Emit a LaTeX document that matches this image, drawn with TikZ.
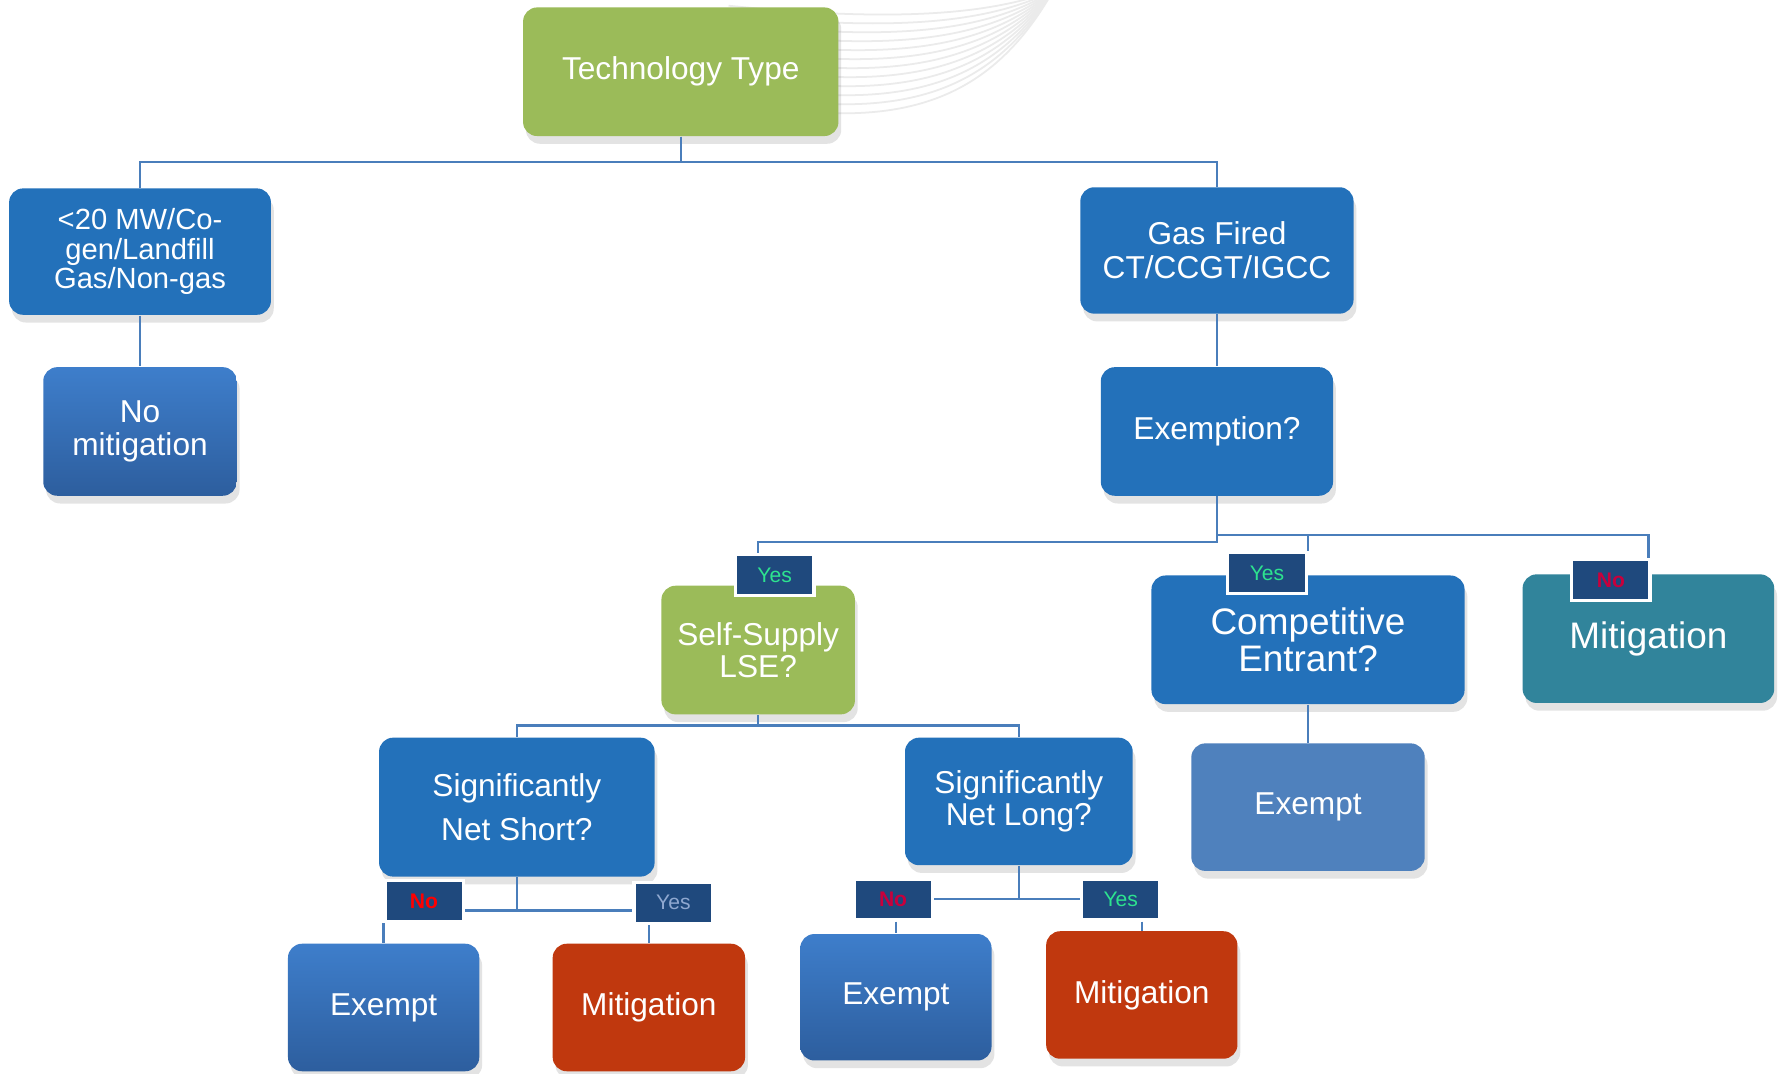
\documentclass[tikz,border=0pt]{standalone}
\usepackage{fontspec}
\setmainfont{Liberation Sans}
\usepackage{xcolor}
\usetikzlibrary{shadows,calc}

\definecolor{techgreen}{HTML}{9BBB59}
\definecolor{boxblue}{HTML}{2371BA}
\definecolor{gradtop}{HTML}{3E7ECB}
\definecolor{gradbot}{HTML}{2D5E9E}
\definecolor{paleblue}{HTML}{4F81BD}
\definecolor{tealbox}{HTML}{31849B}
\definecolor{rustred}{HTML}{C0380E}
\definecolor{tagnavy}{HTML}{1F497D}
\definecolor{linkblue}{HTML}{4A7EBB}
\definecolor{yesgreen}{HTML}{2DE38F}
\definecolor{nocrimson}{HTML}{C8003C}
\definecolor{yesgrey}{HTML}{8FA8D0}

\begin{document}
\begin{tikzpicture}[
    x=0.011384cm, y=-0.011384cm,
    box/.style={rectangle, rounded corners=4pt, text=white, align=center, inner sep=2pt,
        drop shadow={shadow xshift=0.8pt, shadow yshift=-2.2pt, opacity=0.22},
        font=\fontsize{9}{10}\selectfont},
    grad/.style={box, top color=gradtop, bottom color=gradbot},
    tag/.style={rectangle, fill=tagnavy, draw=white, line width=1pt, minimum width=0.786cm,
        minimum height=0.41cm, inner sep=0pt, font=\fontsize{6}{7}\selectfont},
    link/.style={draw=linkblue, line width=0.7pt},
]
    \useasboundingbox[fill=white] (0,0) rectangle (1568,943);
    % faint background sweep
    \foreach \i in {0,...,11}
        \draw[black!8, line width=0.5pt] (640,{5+7.5*\i}) .. controls (790,{20+9*\i}) and (870,{12+7*\i}) .. (925,-8);

    \node[box, fill=techgreen, minimum width=3.153cm, minimum height=1.286cm] (tech) at (598,63) {Technology Type};
    \node[box, fill=boxblue, minimum width=2.618cm, minimum height=1.264cm, font=\fontsize{8.3}{8.4}\selectfont] (small) at (123,221) {<20 MW/Co-\\gen/Landfill\\Gas/Non-gas};
    \node[box, fill=boxblue, minimum width=2.732cm, minimum height=1.264cm, font=\fontsize{9}{9.7}\selectfont] (gas) at (1069,220) {Gas Fired\\CT/CCGT/IGCC};
    \node[grad, minimum width=1.935cm, minimum height=1.286cm, font=\fontsize{9}{9.4}\selectfont] (nomit) at (123,379) {No\\mitigation};
    \node[box, fill=boxblue, minimum width=2.322cm, minimum height=1.286cm] (exemp) at (1069,379) {Exemption?};
    \node[box, fill=techgreen, minimum width=1.935cm, minimum height=1.286cm, font=\fontsize{9}{9.1}\selectfont] (supply) at (666,571) {Self-Supply\\LSE?};
    \node[box, fill=boxblue, minimum width=3.131cm, minimum height=1.286cm, font=\fontsize{10.5}{10.7}\selectfont] (comp) at (1149,562) {Competitive\\Entrant?};
    \node[box, fill=tealbox, minimum width=2.516cm, minimum height=1.286cm, font=\fontsize{10.5}{11}\selectfont] (mitteal) at (1448,561) {Mitigation};
    \node[box, fill=boxblue, minimum width=2.755cm, minimum height=1.389cm, font=\fontsize{9}{12.6}\selectfont] (short) at (454,709) {Significantly\\Net Short?};
    \node[box, fill=boxblue, minimum width=2.277cm, minimum height=1.275cm, font=\fontsize{9}{9.1}\selectfont] (long) at (895,704) {Significantly\\Net Long?};
    \node[box, fill=paleblue, minimum width=2.334cm, minimum height=1.275cm] (exlight) at (1149,709) {Exempt};
    \node[grad, minimum width=1.913cm, minimum height=1.275cm] (ex1) at (337,885) {Exempt};
    \node[box, fill=rustred, minimum width=1.924cm, minimum height=1.275cm] (mit1) at (570,885) {Mitigation};
    \node[grad, minimum width=1.913cm, minimum height=1.264cm] (ex2) at (787,876) {Exempt};
    \node[box, fill=rustred, minimum width=1.913cm, minimum height=1.275cm] (mit2) at (1003,874) {Mitigation};

    % answer tags
    \node[tag, text=yesgreen] (yes1) at (680.5,505) {Yes};
    \node[tag, text=yesgreen] (yes2) at (1113,503.5) {Yes};
    \node[tag, text=nocrimson, font=\fontsize{6}{7}\selectfont\bfseries] (no1) at (1415,509.5) {No};
    \node[tag, text=red, font=\fontsize{6}{7}\selectfont\bfseries] (no2) at (372.5,791.5) {No};
    \node[tag, text=yesgrey] (yes3) at (591.5,793) {Yes};
    \node[tag, text=nocrimson, font=\fontsize{6}{7}\selectfont\bfseries] (no3) at (784.5,790) {No};
    \node[tag, text=yesgreen] (yes4) at (984.5,790) {Yes};

    % connectors
    \draw[link] (tech.south) -- ++(0,22) -| (small.north);
    \draw[link] (tech.south) -- ++(0,22) -| (gas.north);
    \draw[link] (small) -- (nomit);
    \draw[link] (gas) -- (exemp);
    \draw[link] (exemp.south) -- ++(0,40) -| (supply.north |- yes1.north);
    \draw[link] (exemp.south) -- ++(0,34) -| (mitteal.north |- no1.north);
    \draw[link] (exemp.south) ++(0,34) -| (comp.north |- yes2.north);
    \draw[link] (supply.south) -- ++(0,9) -| (short.north);
    \draw[link] (supply.south) -- ++(0,9) -| (long.north);
    \draw[link] (comp) -- (exlight);
    \draw[link] (short.south) -- ++(0,29) coordinate (s1);
    \draw[link] (no2.east |- s1) -- (yes3.west |- s1);
    \draw[link] (ex1.north |- no2.south) -- (ex1.north);
    \draw[link] (mit1.north |- yes3.south) -- (mit1.north);
    \draw[link] (long.south) -- ++(0,29) coordinate (l1);
    \draw[link] (no3.east |- l1) -- (yes4.west |- l1);
    \draw[link] (ex2.north |- no3.south) -- (ex2.north);
    \draw[link] (mit2.north |- yes4.south) -- (mit2.north);
\end{tikzpicture}
\end{document}
